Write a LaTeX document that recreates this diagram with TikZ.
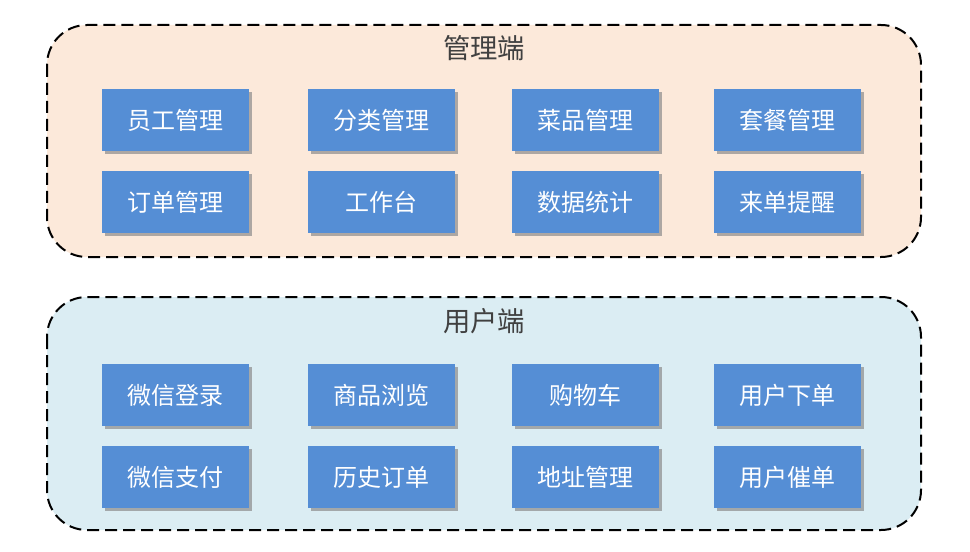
\documentclass[tikz,border=0pt]{standalone}
\usepackage{fontspec}
\newfontfamily\cjk{Noto Sans CJK SC}
\usetikzlibrary{shadows}
\definecolor{boxblue}{HTML}{558ED5}
\definecolor{topfill}{HTML}{FCE9DA}
\definecolor{botfill}{HTML}{DBEDF3}
\definecolor{titlegray}{HTML}{404040}
\tikzset{
  panel/.style={draw=black, line width=1.5pt, dash pattern=on 9pt off 4.5pt, rounded corners=30pt},
  item/.style={fill=boxblue, minimum width=110.25pt, minimum height=46.5pt, inner sep=0pt,
     text=white, font=\cjk\fontsize{18}{18}\selectfont,
     drop shadow={shadow xshift=2.5pt, shadow yshift=-2.5pt, fill=black!45, opacity=0.7}},
  paneltitle/.style={text=titlegray, font=\cjk\fontsize{20.5}{20.5}\selectfont}
}
\begin{document}
\begin{tikzpicture}[x=0.75pt, y=-0.75pt]
\useasboundingbox (0,0) rectangle (970,552);
\draw[panel, fill=topfill] (47,25) rectangle (921,257);
\draw[panel, fill=botfill] (47,297) rectangle (921,530);
\node[paneltitle] (t1) at (484,48) {管理端};
\node[paneltitle] (t2) at (484,321) {用户端};
% admin rows
\node[item] (a1) at (175.5,120) {员工管理};
\node[item] (a2) at (381.5,120) {分类管理};
\node[item] (a3) at (585,120) {菜品管理};
\node[item] (a4) at (787.5,120) {套餐管理};
\node[item] (a5) at (175.5,202) {订单管理};
\node[item] (a6) at (381.5,202) {工作台};
\node[item] (a7) at (585,202) {数据统计};
\node[item] (a8) at (787.5,202) {来单提醒};
% user rows
\node[item] (u1) at (175.5,395) {微信登录};
\node[item] (u2) at (381.5,395) {商品浏览};
\node[item] (u3) at (585,395) {购物车};
\node[item] (u4) at (787.5,395) {用户下单};
\node[item] (u5) at (175.5,477) {微信支付};
\node[item] (u6) at (381.5,477) {历史订单};
\node[item] (u7) at (585,477) {地址管理};
\node[item] (u8) at (787.5,477) {用户催单};
\end{tikzpicture}
\end{document}
